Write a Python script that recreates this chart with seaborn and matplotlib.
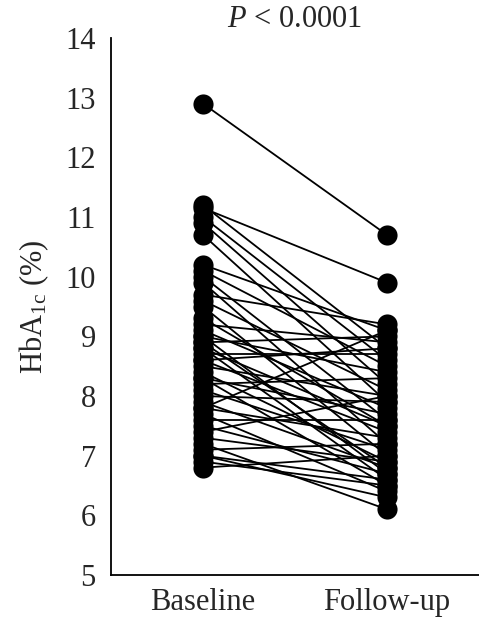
"""
Paired HbA1c values, baseline vs follow-up
"""

import pandas as pd
import numpy as np
import matplotlib
matplotlib.use("Agg")
import matplotlib.pyplot as plt
import seaborn as sns

# Visits and paired values (one entry per patient)
visits = ["Baseline", "Follow-up"]
baseline = [12.9, 11.15, 11.2, 11.0, 10.9, 10.7, 10.2, 10.1, 10.0, 9.9,
            9.7, 9.6, 9.5, 9.2, 9.1, 9.0, 9.0, 8.9, 8.8, 8.8,
            8.7, 8.6, 8.5, 8.4, 8.3, 8.3, 8.2, 8.1, 8.0, 7.9,
            7.8, 7.8, 7.7, 7.6, 7.5, 7.4, 7.3, 7.2, 7.1, 7.0,
            6.9, 6.8, 8.9, 8.6, 9.3, 7.0]
followup = [10.7, 9.9, 8.8, 8.6, 8.2, 7.9, 9.1, 8.5, 7.6, 7.2,
            9.2, 8.1, 7.0, 8.9, 7.8, 6.7, 8.4, 9.0, 7.5, 6.6,
            8.7, 7.4, 8.0, 6.9, 7.7, 6.5, 8.3, 7.1, 7.9, 6.8,
            7.3, 9.1, 6.4, 7.6, 6.7, 8.0, 6.9, 6.1, 7.2, 6.6,
            6.5, 7.0, 6.8, 8.8, 7.5, 6.3]
y_ticks = [5, 6, 7, 8, 9, 10, 11, 12, 13, 14]
p_text = "$\\mathit{P}$ < 0.0001"

n = len(baseline)
df = pd.DataFrame({
    "id": list(range(n)) * 2,
    "visit": [visits[0]] * n + [visits[1]] * n,
    "hba1c": baseline + followup,
})

sns.set_style("white")
plt.rcParams["font.family"] = ["Liberation Serif", "DejaVu Serif"]
plt.rcParams["mathtext.fontset"] = "custom"
plt.rcParams["mathtext.rm"] = "Liberation Serif"
plt.rcParams["mathtext.it"] = "Liberation Serif:italic"

fig = plt.figure(figsize=(4.79, 6.24), dpi=100)
ax = fig.add_axes([0.232, 0.0785, 0.768, 0.8605])

sns.lineplot(data=df, x="visit", y="hba1c", units="id", estimator=None,
             color="black", linewidth=1.3, marker="o", markersize=14.5,
             markeredgewidth=0, sort=False, ax=ax)

fs = 22
ax.set_xlim(-0.5, 1.5)
ax.set_ylim(5, 14)
ax.set_yticks(y_ticks)
ax.set_xlabel("")
ax.set_ylabel("HbA$_{\\mathregular{1c}}$ (%)", fontsize=fs, labelpad=10)
ax.tick_params(axis="y", direction="in", length=6, width=1.3, labelsize=fs, pad=11)
ax.tick_params(axis="x", length=0, labelsize=fs, pad=9)
for side in ["top", "right"]:
    ax.spines[side].set_visible(False)
for side in ["left", "bottom"]:
    ax.spines[side].set_linewidth(1.3)
    ax.spines[side].set_color("black")

ax.set_title(p_text, fontsize=fs, pad=8)

plt.savefig("out.png", dpi=100)
